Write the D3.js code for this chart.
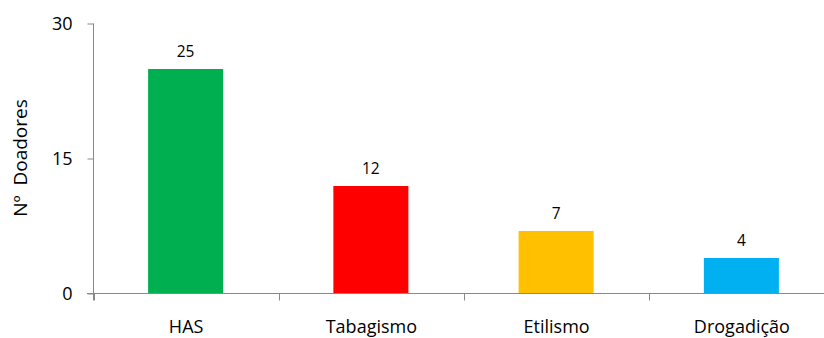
<!DOCTYPE html>
<html>
<head>
<meta charset="utf-8">
<script src="https://cdn.jsdelivr.net/npm/d3@7"></script>
<style>
  html, body { margin: 0; padding: 0; background: #fff; }
  svg { display: block; font-family: "Open Sans", sans-serif; }
</style>
</head>
<body>
<svg id="chart" width="824" height="338"></svg>
<script>
// Risk factors among donors
const categories = ["HAS", "Tabagismo", "Etilismo", "Drogadição"];
const donors = [25, 12, 7, 4];
const barColors = ["#00B050", "#FF0000", "#FFC000", "#00B0F0"];
const yTicks = [0, 15, 30];
const yTitle = "Nº  Doadores";

const svg = d3.select("#chart");
const axisColor = "#898989";

const x = d3.scaleBand()
  .domain(categories)
  .range([93.5, 834.5])
  .paddingInner(0.595)
  .paddingOuter(0.2975);

const y = d3.scaleLinear().domain([0, 30]).range([293.5, 23.5]);

// bars
svg.append("g").selectAll("rect")
  .data(categories)
  .join("rect")
  .attr("x", d => x(d) - 0.5)
  .attr("y", (d, i) => y(donors[i]) + 0.5)
  .attr("width", x.bandwidth())
  .attr("height", (d, i) => y(0) - y(donors[i]))
  .attr("fill", (d, i) => barColors[i]);

// value labels
svg.append("g").selectAll("text")
  .data(categories)
  .join("text")
  .attr("x", d => x(d) + x.bandwidth() / 2 - 0.5)
  .attr("y", (d, i) => y(donors[i]) - 12)
  .attr("text-anchor", "middle")
  .attr("font-size", 15.5)
  .attr("fill", "#000")
  .text((d, i) => donors[i]);

// y axis
const yAxis = svg.append("g")
  .attr("transform", "translate(93.5,0)")
  .call(d3.axisLeft(y).tickValues(yTicks).tickSize(6).tickPadding(15));
yAxis.select(".domain").attr("stroke", axisColor).attr("d", "M0,23.5V300.5");
yAxis.selectAll(".tick line").attr("stroke", axisColor);
yAxis.selectAll(".tick text")
  .attr("font-size", 18)
  .attr("font-family", "Open Sans, sans-serif")
  .attr("fill", "#000");

// x axis line and category boundary ticks
const step = x.step();
const start = x.range()[0];
svg.append("line")
  .attr("x1", 87).attr("x2", 824)
  .attr("y1", y(0)).attr("y2", y(0))
  .attr("stroke", axisColor);
svg.append("g").selectAll("line")
  .data(d3.range(categories.length + 1))
  .join("line")
  .attr("x1", i => Math.round(start + i * step) + 0.5)
  .attr("x2", i => Math.round(start + i * step) + 0.5)
  .attr("y1", y(0))
  .attr("y2", y(0) + 7)
  .attr("stroke", axisColor);

// category labels
svg.append("g").selectAll("text")
  .data(categories)
  .join("text")
  .attr("x", d => x(d) + x.bandwidth() / 2)
  .attr("y", 333)
  .attr("text-anchor", "middle")
  .attr("font-size", 18)
  .attr("fill", "#000")
  .text(d => d);

// y axis title
svg.append("text")
  .attr("transform", "translate(27,158) rotate(-90)")
  .attr("text-anchor", "middle")
  .attr("font-size", 19)
  .attr("fill", "#000")
  .attr("xml:space", "preserve")
  .style("white-space", "pre")
  .text(yTitle);
</script>
</body>
</html>
